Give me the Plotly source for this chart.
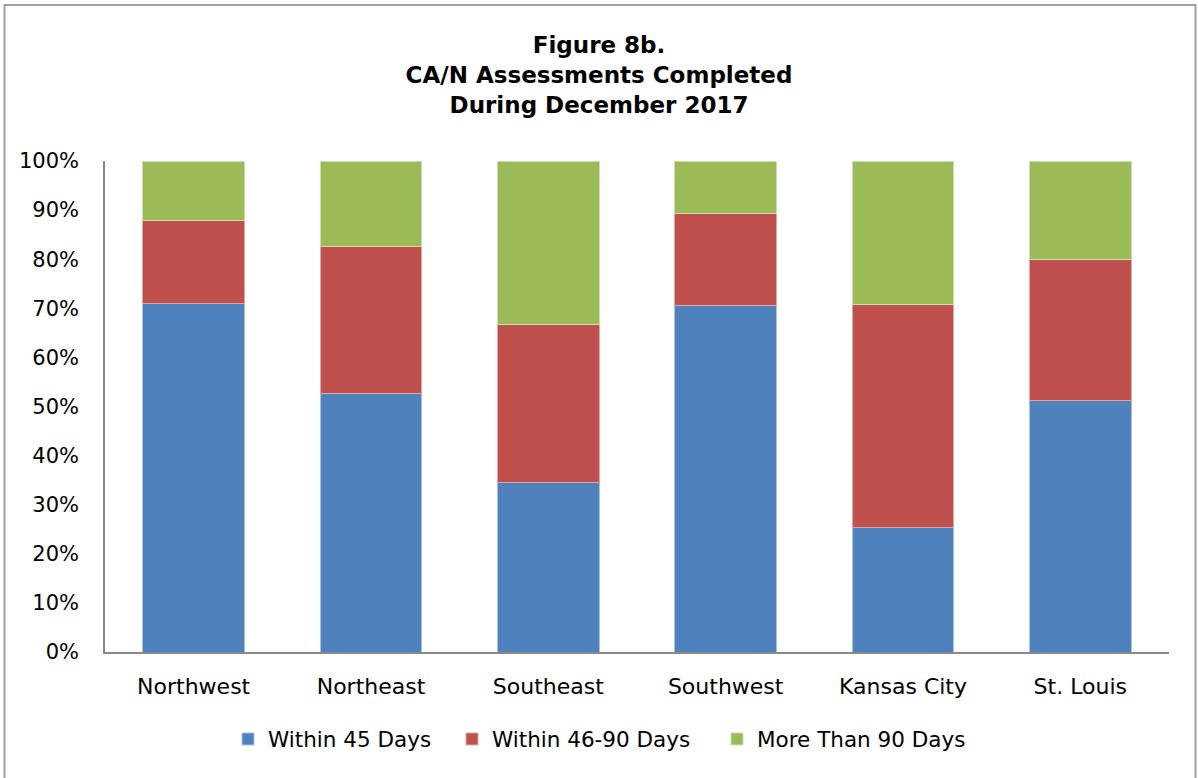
import plotly.graph_objects as go

regions = ["Northwest", "Northeast", "Southeast", "Southwest", "Kansas City", "St. Louis"]
within_45 = [70.9, 52.7, 34.5, 70.6, 25.4, 51.3]
within_46_90 = [17.0, 29.9, 32.1, 18.7, 45.3, 28.7]
more_than_90 = [12.1, 17.4, 33.4, 10.7, 29.3, 20.0]
series_names = ["Within 45 Days", "Within 46-90 Days", "More Than 90 Days"]
colors = ["#4F81BD", "#C0504D", "#9BBB59"]
edge_colors = ["#A7C0DE", "#DFA8A6", "#CDDDAC"]
y_ticks = list(range(0, 101, 10))
y_tick_labels = [f"{v}%" for v in y_ticks]

W, H = 1198, 778
ML, MR, MT, MB = 105, 29, 161, 126
FONT = "DejaVu Sans, sans-serif"
legend_ids = ["legend", "legend2", "legend3"]
legend_left_px = [228, 452, 717]

fig = go.Figure()
for name, vals, c, ec, lid in zip(series_names, [within_45, within_46_90, more_than_90],
                                  colors, edge_colors, legend_ids):
    fig.add_trace(go.Bar(x=regions, y=vals, name=name, legend=lid,
                         marker=dict(color=c, line=dict(color=ec, width=1))))

pw = W - ML - MR
ph = H - MT - MB
fig.add_shape(type="rect", xref="paper", yref="paper",
              x0=(4.5 - ML) / pw, x1=(W - 2.5 - ML) / pw,
              y0=-(H + 10 - MT - ph) / ph, y1=(MT - 5) / ph + 1,
              line=dict(color="#A0A0A0", width=2), layer="below")

legend_common = dict(orientation="h", xref="container", xanchor="left",
                     y=1 - 739 / H, yref="container", yanchor="middle",
                     font=dict(family=FONT, size=21.5), bgcolor="rgba(0,0,0,0)")
legends = {lid: dict(legend_common, x=lx / W) for lid, lx in zip(legend_ids, legend_left_px)}

fig.update_layout(
    width=W, height=H,
    margin=dict(l=ML, r=MR, t=MT, b=MB),
    barmode="stack", bargap=0.425,
    paper_bgcolor="white", plot_bgcolor="white",
    font=dict(family=FONT, size=22, color="#000000"),
    title=dict(text="<b>Figure 8b.<br>CA/N Assessments Completed<br>During December 2017</b>",
               x=0.5, xref="container", xanchor="center",
               y=1 - 53 / H, yref="container", yanchor="top",
               font=dict(family=FONT, size=23, color="#000000")),
    xaxis=dict(showline=True, linecolor="#888888", linewidth=1.5, ticks="",
               ticklabelstandoff=14, showgrid=False, tickfont=dict(size=22)),
    yaxis=dict(range=[0, 100], tickmode="array", tickvals=y_ticks, ticktext=y_tick_labels,
               showline=True, linecolor="#888888", linewidth=1.5, showgrid=False, ticks="",
               ticklabelstandoff=20, zeroline=False, tickfont=dict(size=21)),
    showlegend=True,
    **legends,
)

fig.write_html("out.html", config={"displayModeBar": False},
               post_script="document.body.style.margin='0';document.body.style.overflow='hidden';")
